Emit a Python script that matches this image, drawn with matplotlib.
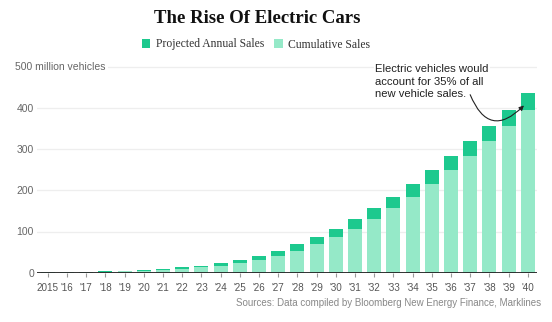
import matplotlib.pyplot as plt
from matplotlib.patches import Patch

# ============================================================
#  Data (million vehicles)
# ============================================================
years = list(range(2015, 2041))
year_labels = ["2015", "'16", "'17", "'18", "'19", "'20", "'21", "'22", "'23",
               "'24", "'25", "'26", "'27", "'28", "'29", "'30", "'31", "'32",
               "'33", "'34", "'35", "'36", "'37", "'38", "'39", "'40"]

cumulative_sales = [0.7, 1.2, 1.8, 2.6, 3.6, 4.8, 6.6, 9.4, 12.8, 17.2, 23.2,
                    31, 40.5, 53.5, 68.5, 86, 107, 130, 156.5, 184.5, 215.5,
                    248.5, 282.5, 318.5, 356, 395]
annual_sales = [0.5, 0.6, 0.8, 1.0, 1.2, 1.8, 2.8, 3.4, 4.4, 6.0, 7.8, 9.5,
                13, 15, 17.5, 21, 23, 26.5, 28, 31, 33, 34, 36, 37.5, 39, 40]

y_ticks = [0, 100, 200, 300, 400]

DARK = "#1dc98e"
LIGHT = "#95e9c8"
SANS = "Liberation Sans"
SERIF = "Liberation Serif"

# ============================================================
#  Figure / axes
# ============================================================
W, H = 552, 322
fig = plt.figure(figsize=(W / 100, H / 100), dpi=100)
y_top = 510
zero_px, top_px = 272.7, 272.7 - 206 * y_top / 500
ax = fig.add_axes([37 / W, 1 - zero_px / H, 500 / W, (zero_px - top_px) / H])

x = list(range(len(years)))
ax.bar(x, cumulative_sales, width=0.73, color=LIGHT, zorder=2)
ax.bar(x, annual_sales, width=0.73, bottom=cumulative_sales, color=DARK, zorder=2)

ax.set_xlim(-0.5625, 25.48)
ax.set_ylim(0, y_top)

for s in ax.spines.values():
    s.set_visible(False)
ax.axhline(0, color="#222222", lw=1.3, zorder=3)

# horizontal gridlines (500 carries its own label further down)
for v in y_ticks[1:] + [500]:
    ax.axhline(v, color="#eeeeee", lw=0.9, zorder=0)

ax.set_xticks(x)
ax.set_xticklabels(year_labels, fontsize=7.1, color="#555555", family=SANS)
ax.tick_params(axis="x", length=3, width=0.8, color="#999999", pad=4.5)

ax.set_yticks(y_ticks)
ax.set_yticklabels([str(v) for v in y_ticks], fontsize=7.5, color="#666666", family=SANS)
ax.tick_params(axis="y", length=0, pad=2.2)

ax.text(-0.5625 - 22 / 19.2, 500, "500 million vehicles", fontsize=7.5, color="#666666",
        family=SANS, ha="left", va="center", zorder=4,
        bbox=dict(facecolor="white", edgecolor="none", pad=1.5))

# ============================================================
#  Annotation
# ============================================================
ax.text(17.05, 506, "Electric vehicles would\naccount for 35% of all\nnew vehicle sales.",
        fontsize=8.1, color="#222222", family=SANS, ha="left", va="top",
        linespacing=1.32, zorder=4,
        bbox=dict(facecolor="white", edgecolor="none", pad=1))
ax.annotate("", xy=(24.8, 406), xytext=(22.0, 432),
            arrowprops=dict(arrowstyle="-|>", connectionstyle="arc3,rad=0.75",
                            color="#222222", lw=0.8, mutation_scale=7,
                            shrinkA=0, shrinkB=0), zorder=5)

# ============================================================
#  Title, legend, source
# ============================================================
fig.text(257 / W, 1 - 18.5 / H, "The Rise Of Electric Cars", fontsize=13.5,
         fontweight="bold", family=SERIF, color="#111111", ha="center", va="center")

handles = [Patch(facecolor=DARK, edgecolor="none", label="Projected Annual Sales"),
           Patch(facecolor=LIGHT, edgecolor="none", label="Cumulative Sales")]
leg = fig.legend(handles=handles, loc="center", bbox_to_anchor=(256 / W, 1 - 44.5 / H),
                 ncol=2, frameon=False, handlelength=0.75, handleheight=0.75,
                 handletextpad=0.5, columnspacing=0.8,
                 prop={"family": SERIF, "size": 8.4})
for t in leg.get_texts():
    t.set_color("#333333")

fig.text(541 / W, 1 - 302.7 / H,
         "Sources: Data compiled by Bloomberg New Energy Finance, Marklines",
         fontsize=7, color="#888888", family=SANS, ha="right", va="center")

fig.savefig("out.png", dpi=100)
